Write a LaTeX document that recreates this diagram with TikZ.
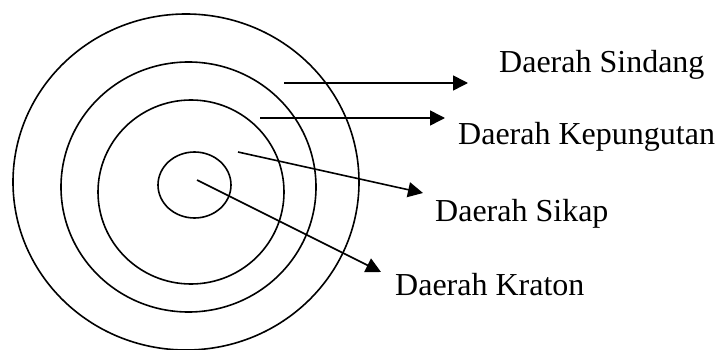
\documentclass[tikz,border=0pt]{standalone}
\usepackage{fontspec}
\setmainfont{Liberation Serif}
\usetikzlibrary{arrows.meta}
\begin{document}
\begin{tikzpicture}[x=1pt,y=-1pt,
  ring/.style={line width=1.6pt},
  pointer/.style={line width=1.6pt,-{Triangle[length=15pt,width=15pt]}},
  lbl/.style={anchor=base west,inner sep=0pt,font=\fontsize{32}{36}\selectfont}]
\useasboundingbox (0,0) rectangle (718,350);
\begin{scope}
\clip (0,0) rectangle (718,350);
\draw[ring] (186,182) ellipse [x radius=173, y radius=168];
\draw[ring] (188.5,187) ellipse [x radius=127.5, y radius=125];
\draw[ring] (191,192) ellipse [x radius=93, y radius=92];
\draw[ring] (194.5,185) ellipse [x radius=36.5, y radius=33];
\end{scope}
\node[lbl] (sindang) at (499,73) {Daerah Sindang};
\node[lbl] (kepung) at (458,145) {Daerah Kepungutan};
\node[lbl] (sikap) at (435,222) {Daerah Sikap};
\node[lbl] (kraton) at (395,295) {Daerah Kraton};
\coordinate (s1) at (284,83);  \coordinate (t1) at (468,83);
\coordinate (s2) at (260,118); \coordinate (t2) at (445,118);
\coordinate (s3) at (238,152); \coordinate (t3) at (423,193);
\coordinate (s4) at (197,180); \coordinate (t4) at (381,272);
\draw[pointer] (s1) -- (t1);
\draw[pointer] (s2) -- (t2);
\draw[pointer] (s3) -- (t3);
\draw[pointer] (s4) -- (t4);
\end{tikzpicture}
\end{document}
